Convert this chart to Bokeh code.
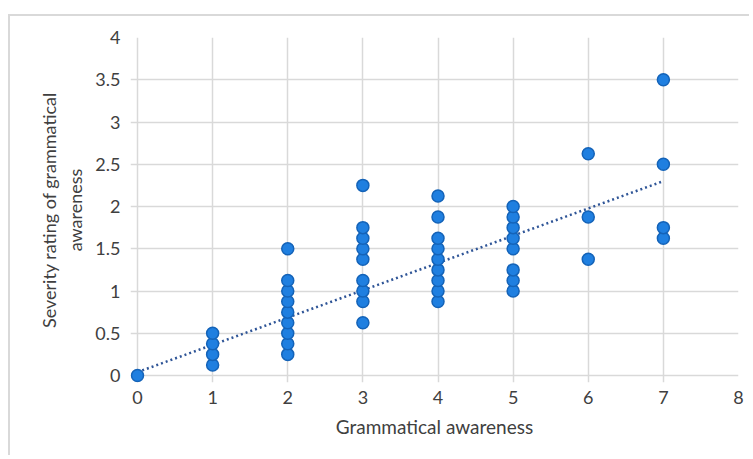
from bokeh.plotting import figure
from bokeh.models import FixedTicker, ColumnDataSource
from bokeh.embed import file_html
from bokeh.resources import INLINE

# Data
x_vals = [0,
          1, 1, 1, 1,
          2, 2, 2, 2, 2, 2, 2, 2, 2,
          3, 3, 3, 3, 3, 3, 3, 3, 3,
          4, 4, 4, 4, 4, 4, 4, 4, 4,
          5, 5, 5, 5, 5, 5, 5, 5,
          6, 6, 6,
          7, 7, 7, 7]
y_vals = [0,
          0.125, 0.25, 0.375, 0.5,
          0.25, 0.375, 0.5, 0.625, 0.75, 0.875, 1.0, 1.125, 1.5,
          0.625, 0.875, 1.0, 1.125, 1.375, 1.5, 1.625, 1.75, 2.25,
          0.875, 1.0, 1.125, 1.25, 1.375, 1.5, 1.625, 1.875, 2.125,
          1.0, 1.125, 1.25, 1.5, 1.625, 1.75, 1.875, 2.0,
          1.375, 1.875, 2.625,
          1.625, 1.75, 2.5, 3.5]

# Linear trendline endpoints
trend_x = [0, 7]
trend_y = [0.04, 2.30]

x_ticks = [0, 1, 2, 3, 4, 5, 6, 7, 8]
y_ticks = [0, 0.5, 1, 1.5, 2, 2.5, 3, 3.5, 4]
y_tick_labels = ["0", "0.5", "1", "1.5", "2", "2.5", "3", "3.5", "4"]
x_title = "Grammatical awareness"
y_title = "Severity rating of grammatical\nawareness"

FONT = "Lato"
TXT = "#404040"

p = figure(width=741, height=441,
           x_range=(-56 / 601, 8), y_range=(-7 / 84.5, 4),
           output_backend="svg", toolbar_location=None,
           min_border_left=120, min_border_right=13,
           min_border_top=21, min_border_bottom=75)
p.margin = (14, 0, 0, 8)
p.styles = {"border-top": "2px solid #d9d9d9", "border-left": "2px solid #d9d9d9"}

p.outline_line_color = None
p.background_fill_color = "white"
p.border_fill_color = "white"

p.xaxis.ticker = FixedTicker(ticks=x_ticks)
p.yaxis.ticker = FixedTicker(ticks=y_ticks)
p.yaxis.major_label_overrides = {t: l for t, l in zip(y_ticks, y_tick_labels)}

for ax in (p.xaxis, p.yaxis):
    ax.axis_line_color = None
    ax.major_tick_line_color = None
    ax.minor_tick_line_color = None
    ax.major_tick_out = 0
    ax.major_tick_in = 0
    ax.major_label_text_font = FONT
    ax.major_label_text_font_size = "18px"
    ax.major_label_text_color = TXT
    ax.axis_label_text_font = FONT
    ax.axis_label_text_color = TXT
    ax.axis_label_text_font_style = "normal"

p.xaxis.axis_label_text_font_size = "19px"
p.yaxis.axis_label_text_font_size = "18px"
p.xaxis.axis_label = x_title
p.yaxis.axis_label = y_title
p.xaxis.major_label_standoff = 8
p.yaxis.major_label_standoff = 10
p.xaxis.axis_label_standoff = 8
p.yaxis.axis_label_standoff = 6

p.xgrid.grid_line_color = "#d9d9d9"
p.ygrid.grid_line_color = "#d9d9d9"
p.xgrid.grid_line_width = 1.5
p.ygrid.grid_line_width = 1.5
p.xgrid.bounds = (0, 4)
p.ygrid.bounds = (0, 8)

p.line(trend_x, trend_y, line_color="#2f5597", line_width=2.5,
       line_dash="2 3")

src = ColumnDataSource(dict(x=x_vals, y=y_vals))
p.scatter("x", "y", source=src, size=12, fill_color="#1f7fe0",
          line_color="#1463b8", line_width=1.5)

open("out.html", "w").write(file_html(p, INLINE))
